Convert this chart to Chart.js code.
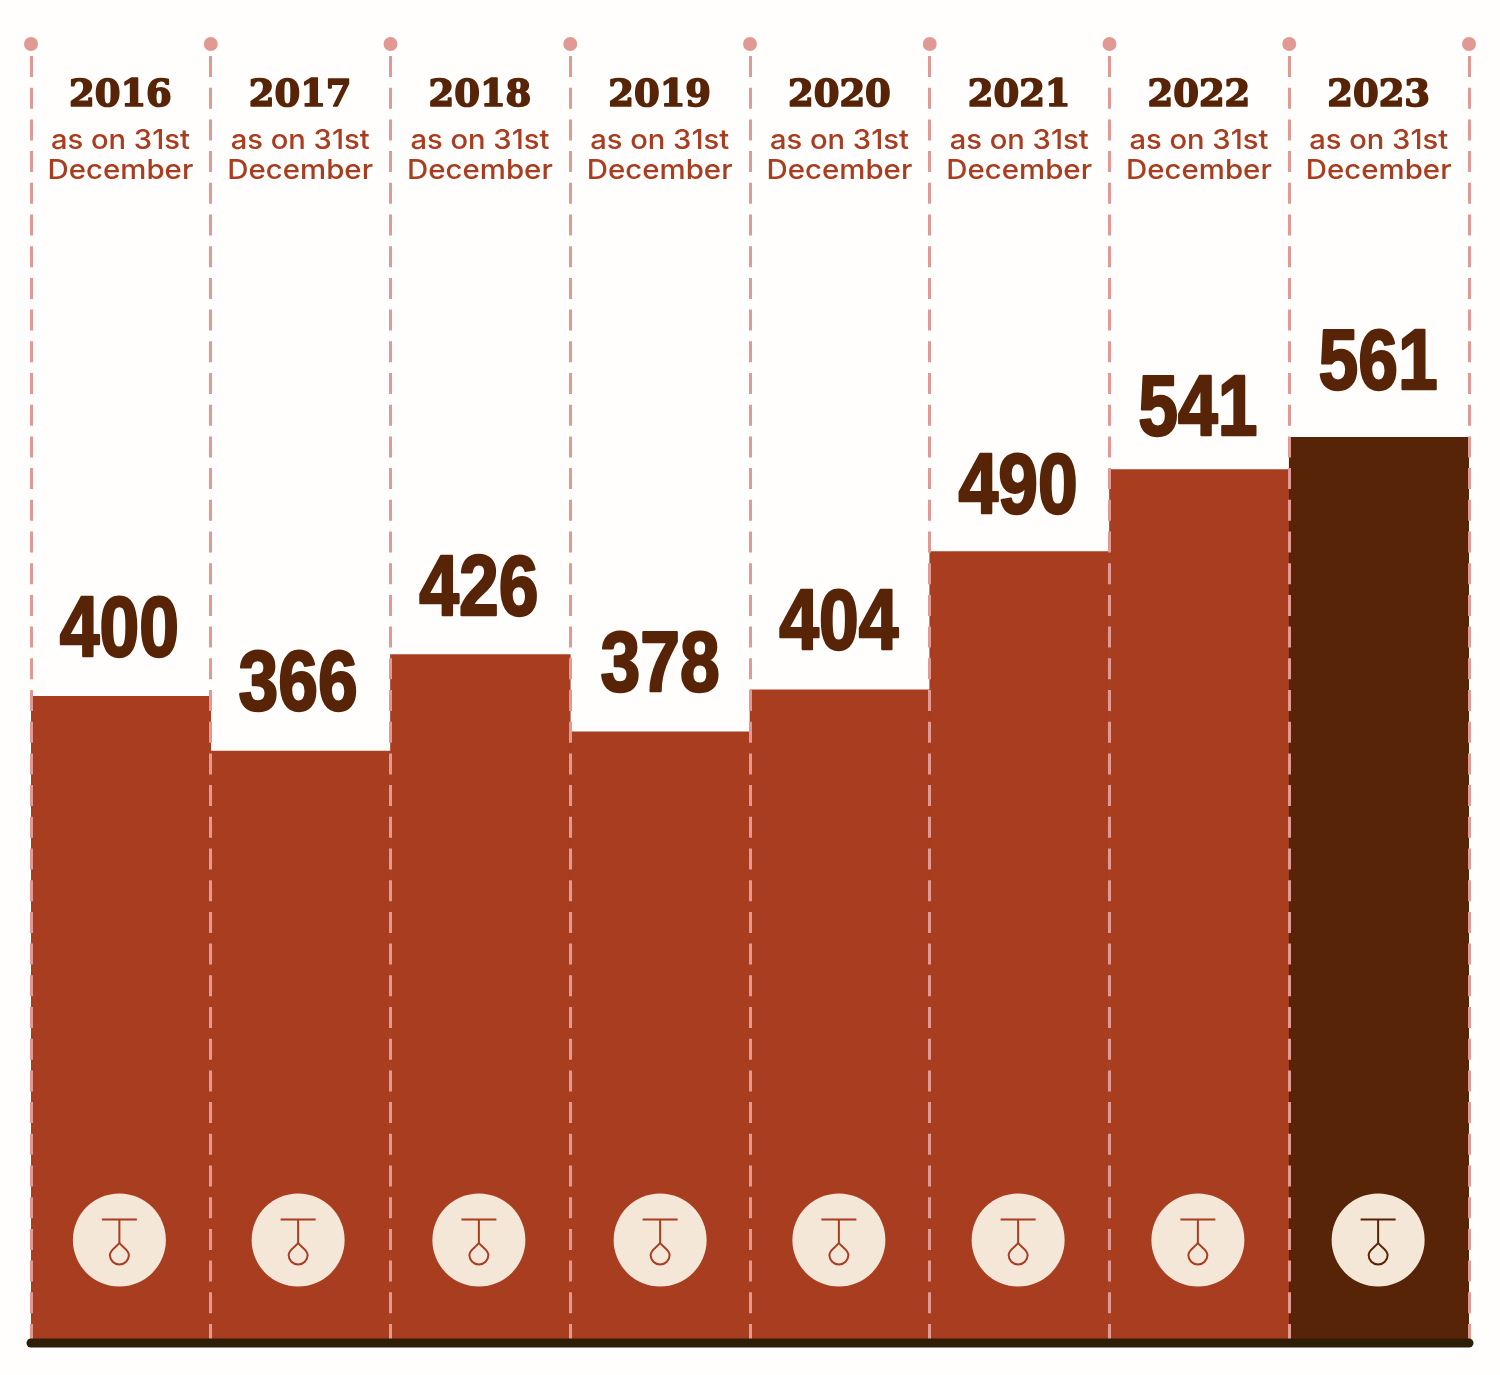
<!DOCTYPE html>
<html>
<head>
<meta charset="utf-8">
<title>Chart</title>
<script src="https://cdn.jsdelivr.net/npm/chart.js@4"></script>
<style>
    html, body { margin: 0; padding: 0; background: #fffefc; }
    canvas { display: block; }
</style>
</head>
<body>
<canvas id="myChart" width="1500" height="1375"></canvas>
<script>
// data
const years = ['2016', '2017', '2018', '2019', '2020', '2021', '2022', '2023'];
const values = [400, 366, 426, 378, 404, 490, 541, 561];
const subtitleLines = ['as on 31st', 'December'];

// colours
const barRed = '#a93d20';
const barDark = '#582407';
const pink = '#e09a93';
const cream = '#f5e7d8';
const baseColor = '#2e1e08';

// small hand corrections of the number labels and icons, in px
const valueGap = [40, 41, 40, 41, 41, 39, 35, 48];
const nudgeX = [-1.5, -2.5, -1.5, 0, -1, -1.5, -1.5, -1];

// canvas has no narrow font here so the text gets squeezed or stretched
function wideText(ctx, text, x, y, scaleX, strokeWidth) {
    ctx.save();
    ctx.translate(x, y);
    ctx.scale(scaleX, 1);
    if (strokeWidth) {
        ctx.lineWidth = strokeWidth;
        ctx.lineJoin = 'round';
        ctx.strokeStyle = ctx.fillStyle;
        ctx.strokeText(text, 0, 0);
    }
    ctx.fillText(text, 0, 0);
    ctx.restore();
}

const decorations = {
    id: 'decorations',
    afterDraw(chart) {
        const ctx = chart.ctx;
        const x = chart.scales.x;
        const y = chart.scales.y;
        const step = x.getPixelForValue(1) - x.getPixelForValue(0);

        ctx.save();

        // dots on top of the dashed lines
        ctx.fillStyle = pink;
        for (let i = 0; i <= years.length; i++) {
            ctx.beginPath();
            ctx.arc(x.getPixelForValue(i) - step / 2, 44, 7, 0, Math.PI * 2);
            ctx.fill();
        }

        // base line
        ctx.strokeStyle = baseColor;
        ctx.lineWidth = 9;
        ctx.lineCap = 'round';
        ctx.beginPath();
        ctx.moveTo(chart.chartArea.left, 1343);
        ctx.lineTo(chart.chartArea.right, 1343);
        ctx.stroke();

        years.forEach((year, i) => {
            const cx = x.getPixelForValue(i);
            const color = i === years.length - 1 ? barDark : barRed;

            // header
            ctx.textAlign = 'center';
            ctx.textBaseline = 'alphabetic';
            ctx.fillStyle = barDark;
            ctx.font = 'bold 37px "DejaVu Serif"';
            wideText(ctx, year, cx - 0.5, 106, 1, 1.6);
            ctx.fillStyle = barRed;
            ctx.font = '500 27px Inter';
            wideText(ctx, subtitleLines[0], cx - 0.5, 149, 1.08);
            wideText(ctx, subtitleLines[1], cx - 0.5, 179, 1.09);

            // number above the bar
            ctx.fillStyle = barDark;
            ctx.font = 'bold 86px "Liberation Sans"';
            wideText(ctx, String(values[i]), cx + nudgeX[i], y.getPixelForValue(values[i]) - valueGap[i], 0.83, 2.5);

            // icon
            const ix = cx + nudgeX[i];
            ctx.fillStyle = cream;
            ctx.beginPath();
            ctx.arc(ix, 1240, 46.5, 0, Math.PI * 2);
            ctx.fill();

            ctx.strokeStyle = color;
            ctx.lineWidth = 2;
            ctx.lineCap = 'butt';
            ctx.beginPath();
            ctx.moveTo(ix - 17.5, 1219.5);
            ctx.lineTo(ix + 17.5, 1219.5);
            ctx.moveTo(ix, 1219.5);
            ctx.lineTo(ix, 1243);
            ctx.stroke();

            // drop
            ctx.beginPath();
            ctx.moveTo(ix, 1243);
            ctx.bezierCurveTo(ix - 3, 1247, ix - 9.5, 1250, ix - 9.5, 1255);
            ctx.arc(ix, 1255, 9.5, Math.PI, 0, true);
            ctx.bezierCurveTo(ix + 9.5, 1250, ix + 3, 1247, ix, 1243);
            ctx.stroke();
        });

        ctx.restore();
    }
};

new Chart(document.getElementById('myChart'), {
    type: 'bar',
    data: {
        labels: years,
        datasets: [{
            data: values,
            backgroundColor: years.map((y, i) => i === years.length - 1 ? barDark : barRed),
            borderWidth: 0,
            barPercentage: 1,
            categoryPercentage: 1
        }]
    },
    options: {
        responsive: false,
        animation: false,
        devicePixelRatio: 1,
        layout: { padding: { left: 31, right: 31, top: 56, bottom: 35 } },
        plugins: { legend: { display: false }, tooltip: { enabled: false } },
        scales: {
            x: {
                offset: true,
                ticks: { display: false },
                border: { display: false, dash: [21, 10.7] },
                grid: { color: pink, lineWidth: 3, offset: true, drawTicks: false, z: 1 }
            },
            y: {
                display: false,
                min: 0,
                max: 798
            }
        }
    },
    plugins: [decorations]
});
</script>
</body>
</html>
